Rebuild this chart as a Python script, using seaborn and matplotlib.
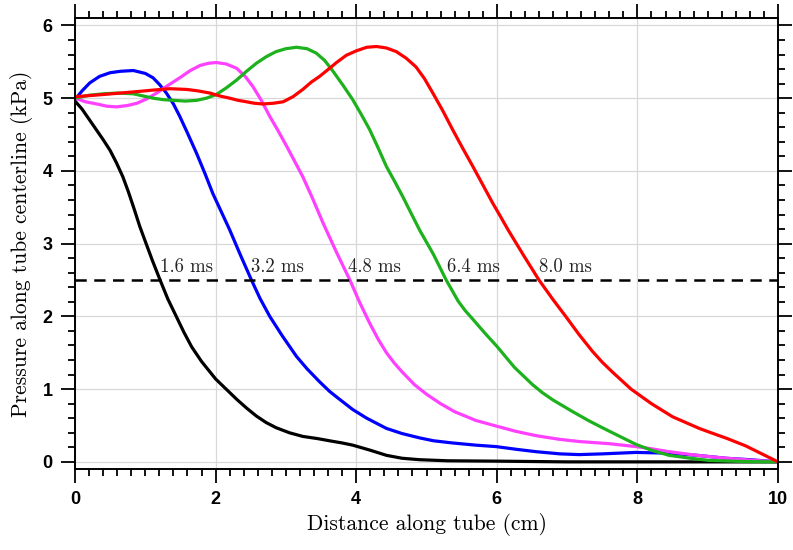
import numpy as np
import pandas as pd
import matplotlib
matplotlib.use("Agg")
import matplotlib.pyplot as plt
import seaborn as sns
from matplotlib.ticker import MultipleLocator

# pressure profiles, one per time
x_16 = [0.0, 0.1, 0.2, 0.3, 0.4, 0.5, 0.59, 0.68, 0.76, 0.84, 0.92, 1.0, 1.1, 1.21, 1.32,
        1.44, 1.55, 1.66, 1.8, 2.0, 2.15, 2.30, 2.44, 2.58, 2.72, 2.86, 3.05, 3.24, 3.45,
        3.62, 3.8, 3.95, 4.2, 4.43, 4.65, 4.90, 5.3, 6.0, 7.0, 8.0, 9.0, 10.0]
p_16 = [4.96, 4.85, 4.71, 4.57, 4.43, 4.28, 4.11, 3.92, 3.71, 3.48, 3.24, 3.03, 2.77, 2.50,
        2.24, 2.00, 1.78, 1.58, 1.38, 1.14, 1.00, 0.86, 0.74, 0.63, 0.54, 0.47, 0.40, 0.35,
        0.32, 0.29, 0.26, 0.23, 0.16, 0.09, 0.05, 0.03, 0.015, 0.01, 0.0, 0.0, 0.0, 0.0]

x_32 = [0.0, 0.1, 0.21, 0.35, 0.50, 0.65, 0.83, 1.0, 1.11, 1.2, 1.30, 1.4, 1.49, 1.6, 1.73,
        1.85, 1.96, 2.08, 2.20, 2.35, 2.51, 2.63, 2.77, 2.95, 3.15, 3.3, 3.48, 3.62, 3.75,
        3.95, 4.15, 4.43, 4.65, 4.90, 5.1, 5.37, 5.7, 5.99, 6.3, 6.56, 6.9, 7.17, 7.5, 7.98,
        8.45, 8.85, 9.26, 9.6, 10.0]
p_32 = [4.98, 5.10, 5.21, 5.30, 5.35, 5.37, 5.38, 5.34, 5.28, 5.19, 5.07, 4.92, 4.75, 4.52,
        4.24, 3.96, 3.69, 3.44, 3.19, 2.85, 2.50, 2.25, 2.00, 1.73, 1.45, 1.28, 1.10, 0.97,
        0.87, 0.72, 0.60, 0.46, 0.39, 0.33, 0.29, 0.26, 0.23, 0.21, 0.17, 0.14, 0.11, 0.10,
        0.11, 0.13, 0.12, 0.09, 0.05, 0.03, 0.0]

x_48 = [0.0, 0.15, 0.31, 0.45, 0.59, 0.75, 0.88, 1.02, 1.16, 1.33, 1.49, 1.64, 1.78, 1.9,
        2.01, 2.15, 2.30, 2.42, 2.53, 2.65, 2.77, 2.89, 3.01, 3.12, 3.24, 3.38, 3.53, 3.72,
        3.91, 4.05, 4.19, 4.31, 4.43, 4.54, 4.65, 4.83, 5.0, 5.2, 5.4, 5.7, 6.0, 6.27, 6.56,
        6.89, 7.17, 7.6, 7.98, 8.2, 8.45, 8.85, 9.26, 9.6, 10.0]
p_48 = [5.0, 4.95, 4.92, 4.89, 4.88, 4.90, 4.93, 4.99, 5.07, 5.18, 5.28, 5.38, 5.45, 5.48,
        5.49, 5.47, 5.41, 5.30, 5.16, 4.97, 4.75, 4.55, 4.34, 4.14, 3.92, 3.62, 3.28, 2.88,
        2.50, 2.19, 1.91, 1.69, 1.50, 1.36, 1.24, 1.06, 0.93, 0.80, 0.69, 0.57, 0.49, 0.42,
        0.36, 0.31, 0.28, 0.25, 0.21, 0.18, 0.14, 0.09, 0.05, 0.025, 0.0]

x_64 = [0.0, 0.2, 0.40, 0.6, 0.83, 0.97, 1.11, 1.25, 1.40, 1.57, 1.73, 1.87, 2.01, 2.15,
        2.30, 2.44, 2.58, 2.72, 2.86, 3.0, 3.15, 3.3, 3.43, 3.55, 3.67, 3.81, 3.95, 4.07,
        4.19, 4.31, 4.43, 4.55, 4.66, 4.78, 4.90, 5.1, 5.28, 5.45, 5.55, 5.66, 5.83, 6.0,
        6.25, 6.51, 6.65, 6.8, 7.08, 7.3, 7.5, 7.75, 7.98, 8.2, 8.45, 8.75, 9.02, 9.5, 10.0]
p_64 = [5.0, 5.04, 5.06, 5.07, 5.06, 5.03, 5.0, 4.98, 4.97, 4.96, 4.97, 5.0, 5.05, 5.14,
        5.25, 5.37, 5.48, 5.57, 5.64, 5.68, 5.70, 5.68, 5.62, 5.52, 5.37, 5.18, 4.98, 4.78,
        4.57, 4.32, 4.06, 3.85, 3.65, 3.42, 3.19, 2.85, 2.50, 2.21, 2.08, 1.96, 1.77, 1.59,
        1.30, 1.06, 0.95, 0.85, 0.69, 0.57, 0.47, 0.35, 0.24, 0.16, 0.09, 0.05, 0.02, 0.005,
        0.0]

x_80 = [0.0, 0.40, 0.88, 1.1, 1.35, 1.59, 1.75, 1.92, 2.06, 2.20, 2.32, 2.44, 2.55, 2.67,
        2.82, 2.96, 3.1, 3.24, 3.36, 3.48, 3.62, 3.72, 3.86, 4.0, 4.15, 4.29, 4.43, 4.57,
        4.71, 4.85, 4.97, 5.09, 5.23, 5.37, 5.51, 5.66, 5.80, 5.94, 6.06, 6.16, 6.38, 6.60,
        6.80, 6.98, 7.17, 7.36, 7.5, 7.65, 7.91, 8.2, 8.50, 8.88, 9.02, 9.28, 9.54, 9.77, 10.0]
p_80 = [5.02, 5.05, 5.09, 5.11, 5.13, 5.12, 5.10, 5.07, 5.03, 5.0, 4.97, 4.95, 4.93, 4.92,
        4.93, 4.95, 5.02, 5.12, 5.22, 5.30, 5.41, 5.49, 5.59, 5.65, 5.70, 5.71, 5.69, 5.64,
        5.55, 5.43, 5.27, 5.07, 4.83, 4.57, 4.32, 4.06, 3.81, 3.56, 3.36, 3.19, 2.84, 2.50,
        2.23, 2.00, 1.75, 1.52, 1.37, 1.23, 1.00, 0.80, 0.62, 0.46, 0.41, 0.32, 0.22, 0.11,
        0.0]

times = ["1.6 ms", "3.2 ms", "4.8 ms", "6.4 ms", "8.0 ms"]
xs = [x_16, x_32, x_48, x_64, x_80]
ps = [p_16, p_32, p_48, p_64, p_80]
colors = ["#000000", "#0000ff", "#ff40ff", "#1db11d", "#ff0000"]
label_x = [1.21, 2.50, 3.89, 5.29, 6.60]
threshold = 2.5

df = pd.concat([pd.DataFrame({"x": x, "p": p, "t": t}) for x, p, t in zip(xs, ps, times)])

sns.set_style("ticks", {"text.color": "black", "xtick.color": "black", "ytick.color": "black",
                        "axes.labelcolor": "black"})
serif = "cmr10"
sans = ["Liberation Sans", "DejaVu Sans"]

fig = plt.figure(figsize=(7.93, 5.5), dpi=100)
ax = fig.add_axes([0.0946, 0.147, 0.8865, 0.82])

ax.grid(True, which="major", color="#d8d8d8", linewidth=0.9)
ax.set_axisbelow(True)

sns.lineplot(data=df, x="x", y="p", hue="t", palette=colors, linewidth=2.3,
             sort=False, legend=False, ax=ax)

ax.axhline(threshold, color="black", linewidth=1.8, linestyle=(0, (4.5, 3)))

for lx, t in zip(label_x, times):
    ax.text(lx, threshold + 0.06, t, ha="left", va="bottom", fontsize=13.5,
            family=serif, color="#222222")

ax.set_xlim(0, 10)
ax.set_ylim(-0.1, 6.1)
ax.xaxis.set_major_locator(MultipleLocator(2))
ax.xaxis.set_minor_locator(MultipleLocator(0.2))
ax.yaxis.set_major_locator(MultipleLocator(1))
ax.yaxis.set_minor_locator(MultipleLocator(0.2))

ax.tick_params(which="both", direction="out", top=True, right=True, width=1.3, color="black")
ax.tick_params(which="major", length=10, pad=6)
ax.tick_params(which="minor", length=5)

for s in ax.spines.values():
    s.set_linewidth(1.4)
    s.set_color("black")

for lab in ax.get_xticklabels() + ax.get_yticklabels():
    lab.set_family(sans)
    lab.set_fontweight("bold")
    lab.set_fontsize(13)
    lab.set_color("black")

ax.set_xlabel("Distance along tube (cm)", family=serif, fontsize=15.5, labelpad=3)
ax.set_ylabel("Pressure along tube centerline (kPa)", family=serif, fontsize=15.5, labelpad=7)

fig.savefig("out.png", dpi=100)
